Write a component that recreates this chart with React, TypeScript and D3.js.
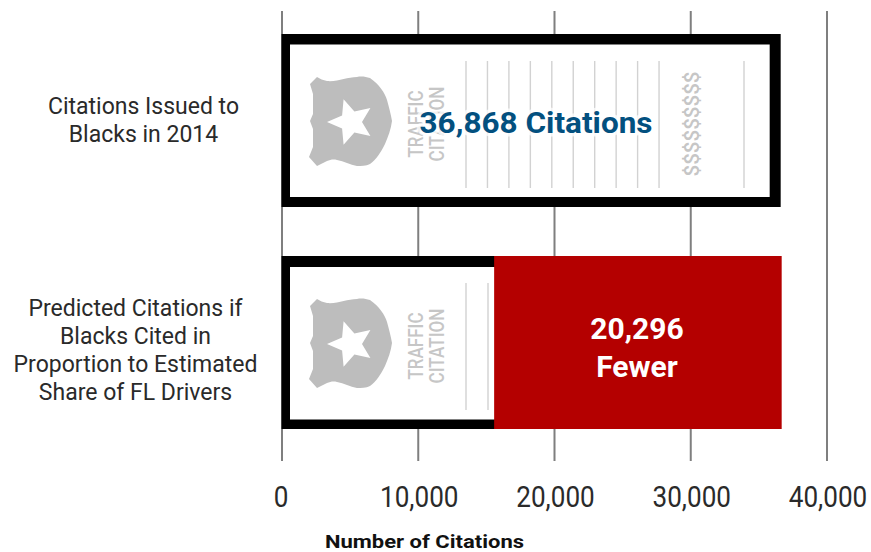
import React from "react";
import * as d3 from "d3";

const categories = ["Citations Issued to Blacks in 2014", "Predicted Citations if Blacks Cited in Proportion to Estimated Share of FL Drivers"];
const categoryLines = [
  ["Citations Issued to", "Blacks in 2014"],
  ["Predicted Citations if", "Blacks Cited in", "Proportion to Estimated", "Share of FL Drivers"],
];
const drawnTotals = [36600, 36600];
const drawnPredicted = 15570;
const tickValues = [0, 10000, 20000, 30000, 40000];
const topLabel = "36,868 Citations";
const redLabel = ["20,296", "Fewer"];
const axisTitle = "Number of Citations";

const FONT = "Roboto, 'Noto Sans', sans-serif";
const W = 871, H = 552;
const x = d3.scaleLinear().domain([0, 40000]).range([282, 827]);
const bands = [{ y0: 34, y1: 207 }, { y0: 256, y1: 429 }];
const SHIELD = "M-40,-37 L-33,-44 C-30,-42 -27,-41 -23,-40 C-12,-39 -3,-44 7,-44 C12,-45 16,-44 20,-43 C29,-37 35,-28 37,-21 C39,-14 41,-6 42,0 C41,8 38,16 35,23 C31,31 26,39 20,43 C16,45 11,45 7,45 C0,44 -6,40 -13,39 C-17,38 -20,39 -23,40 L-33,45 L-41,36 L-37,26 L-37,8 L-40,0 L-37,-7 L-37,-27 Z";

function star(cx: number, cy: number, R: number, r: number) {
  const pts: [number, number][] = [];
  for (let i = 0; i < 10; i++) {
    const a = Math.PI + (i * Math.PI) / 5;
    const rad = i % 2 ? r : R;
    pts.push([cx + rad * Math.cos(a), cy + rad * Math.sin(a)]);
  }
  return d3.line()(pts) + "Z";
}

function Icon({ cy }: { cy: number }) {
  return (
    <g>
      <path d={SHIELD} transform={`translate(350,${cy})`} fill="#bdbdbd" />
      <path d={star(351, cy + 1, 24, 11)} fill="#fff" />
      <text transform={`translate(422.5,${cy + 3}) rotate(-90)`} textAnchor="middle" fontFamily={FONT} fontSize={20} fontWeight={500} fill="#c6c6c6" textLength={67} lengthAdjust="spacingAndGlyphs">TRAFFIC</text>
      <text transform={`translate(443.5,${cy + 3}) rotate(-90)`} textAnchor="middle" fontFamily={FONT} fontSize={20} fontWeight={500} fill="#c6c6c6" textLength={75} lengthAdjust="spacingAndGlyphs">CITATION</text>
    </g>
  );
}

function Ruled({ xs, y0, y1 }: { xs: number[]; y0: number; y1: number }) {
  return <g>{xs.map((v) => <line key={v} x1={v} x2={v} y1={y0} y2={y1} stroke="#d2d2d2" strokeWidth={1.4} />)}</g>;
}

function Frame({ y0, y1, x1, inner }: { y0: number; y1: number; x1: number; inner: number[] }) {
  return (
    <g>
      <rect x={281.5} y={y0} width={x1 - 281.5} height={y1 - y0} fill="#000" />
      <rect x={290} y={y0 + inner[0]} width={x1 - 290 - 11} height={y1 - y0 - inner[0] - inner[1]} fill="#fff" />
    </g>
  );
}

export default function App() {
  const topLines = d3.range(10).map((i) => 466 + i * 21.45).concat([744]);
  const redX = x(drawnPredicted);
  const barEnd = x(drawnTotals[1]);
  return (
    <svg width={W} height={H} viewBox={`0 0 ${W} ${H}`} role="img" aria-label={categories.join("; ")} style={{ position: "absolute", left: 0, top: 0, background: "#fff" }}>
      {tickValues.map((t) => (
        <line key={t} x1={x(t)} x2={x(t)} y1={11} y2={461} stroke="#7f7f7f" strokeWidth={2} />
      ))}

      <Frame y0={bands[0].y0} y1={bands[0].y1} x1={x(drawnTotals[0])} inner={[10.5, 10]} />
      <Icon cy={121} />
      <Ruled xs={topLines} y0={61} y1={188} />
      <text transform="translate(699,124) rotate(-90)" textAnchor="middle" fontFamily={FONT} fontSize={20} fontWeight={500} fill="#c6c6c6" textLength={105} lengthAdjust="spacingAndGlyphs">$$$$$$$$$</text>
      <text x={536} y={133} textAnchor="middle" fontFamily={FONT} fontSize={29} fontWeight={700} fill="#03507f" stroke="#fff" strokeOpacity={0.75} strokeWidth={7} strokeLinejoin="round" paintOrder="stroke" textLength={233} lengthAdjust="spacingAndGlyphs">{topLabel}</text>

      <Frame y0={bands[1].y0} y1={bands[1].y1} x1={barEnd} inner={[11, 9.5]} />
      <Icon cy={343} />
      <Ruled xs={[466, 488]} y0={283} y1={410} />
      <rect x={redX} y={bands[1].y0} width={barEnd + 1 - redX} height={bands[1].y1 - bands[1].y0} fill="#b40000" />
      <text textAnchor="middle" fontFamily={FONT} fontSize={30} fontWeight={700} fill="#fff">
        <tspan x={637} y={339}>{redLabel[0]}</tspan>
        <tspan x={637} y={377}>{redLabel[1]}</tspan>
      </text>

      {categoryLines[0].map((s, i) => (
        <text key={s} x={143.5} y={114 + i * 28} textAnchor="middle" fontFamily={FONT} fontSize={23} fill="#2a2a2a">{s}</text>
      ))}
      {categoryLines[1].map((s, i) => (
        <text key={s} x={135.5} y={316 + i * 28} textAnchor="middle" fontFamily={FONT} fontSize={23} fill="#2a2a2a">{s}</text>
      ))}
      {tickValues.map((t) => (
        <text key={t} transform={`translate(${x(t) + (t === 0 ? -1 : 1)},507) scale(0.9,1)`} textAnchor="middle" fontFamily={FONT} fontSize={29} fill="#2a2a2a">{d3.format(",")(t)}</text>
      ))}
      <text x={424.5} y={548} textAnchor="middle" fontFamily={FONT} fontSize={19} fontWeight={700} fill="#111" textLength={199} lengthAdjust="spacingAndGlyphs">{axisTitle}</text>
    </svg>
  );
}
